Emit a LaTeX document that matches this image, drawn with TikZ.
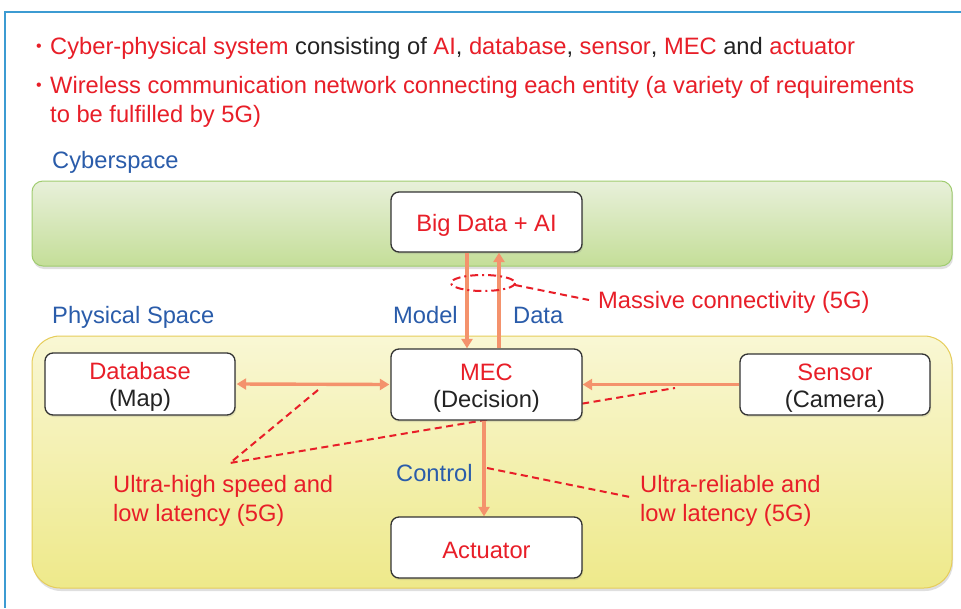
\documentclass[tikz,border=0pt]{standalone}
\usepackage{fontspec}
\setmainfont{Liberation Sans}
\usetikzlibrary{arrows.meta,shadows,calc}
\definecolor{tred}{RGB}{232,30,40}
\definecolor{tblue}{RGB}{42,92,170}
\definecolor{tblack}{RGB}{35,35,35}
\definecolor{arrcol}{RGB}{244,146,108}
\definecolor{framecol}{RGB}{60,155,210}
\definecolor{gtop}{RGB}{232,240,218}
\definecolor{gbot}{RGB}{196,222,152}
\definecolor{gline}{RGB}{160,204,112}
\definecolor{ytop}{RGB}{249,247,212}
\definecolor{ybot}{RGB}{238,233,138}
\definecolor{yline}{RGB}{230,205,90}
\newcommand{\mybul}{\makebox[14pt][l]{\raisebox{2.5pt}{\fontsize{16}{16}\selectfont\textbullet}}}
\newcommand{\boxup}{\rule{0pt}{23pt}}
\tikzset{
  txt/.style={anchor=base west, inner sep=0pt, font=\fontsize{23.7}{29}\selectfont, align=left},
  cbox/.style={draw=black!80, line width=1.3pt, fill=white, rounded corners=8pt,
     minimum width=191pt, align=center, font=\fontsize{23.7}{27}\selectfont, inner sep=0pt,
     drop shadow={opacity=0.2, shadow xshift=1pt, shadow yshift=-2pt}},
  region/.style={line width=1pt, inner sep=0pt, drop shadow={opacity=0.25, shadow xshift=1pt, shadow yshift=-3pt}},
  arr/.style={draw=arrcol, line width=3.4pt, -{Triangle[width=11pt,length=9.5pt]}},
  darr/.style={draw=arrcol, line width=3.4pt, {Triangle[width=11pt,length=9.5pt]}-{Triangle[width=11pt,length=9.5pt]}},
  rdash/.style={draw=tred, line width=2pt, dash pattern=on 7pt off 4.5pt},
  rdashdot/.style={draw=tred, line width=2pt, dash pattern=on 8pt off 4pt on 2pt off 4pt}
}
\begin{document}
\begin{tikzpicture}[x=1pt,y=-1pt]
\useasboundingbox[fill=white] (0,0) rectangle (961,608);
% frame
\draw[framecol, line width=1.2pt] (961,12) -- (5,12) -- (5,608);
% bullets
\node[txt, text=tred] (b1) at (36,54) {\mybul Cyber-physical system \textcolor{tblack}{consisting of} AI\textcolor{tblack}{,} database\textcolor{tblack}{,} sensor\textcolor{tblack}{,} MEC \textcolor{tblack}{and} actuator};
\node[txt, text=tred] (b2) at (36,122) {\mybul Wireless communication network connecting each entity (a variety of requirements\\\hspace*{14pt}to be fulfilled by 5G)};
% regions
\node[region, draw=gline, top color=gtop, bottom color=gbot, rounded corners=11pt,
  minimum width=920pt, minimum height=85pt] (cyber) at (492,223.5) {};
\node[region, draw=yline, top color=ytop, bottom color=ybot, rounded corners=28pt,
  minimum width=920pt, minimum height=252pt] (phys) at (492,462) {};
\node[txt, text=tblue] (lcyber) at (52,168) {Cyberspace};
\node[txt, text=tblue] (lphys) at (52,323) {Physical Space};
% dashed lines under boxes
\coordinate (uh) at (230,463);
\coordinate (uh1) at (318,390);
\coordinate (uh2) at (675,388);
\draw[rdash] (uh1) -- (uh) -- (uh2);
% boxes
\node[cbox, minimum height=60pt] (big) at (486.5,222) {\boxup\textcolor{tred}{Big Data + AI}};
\node[cbox, minimum height=71pt] (mec) at (486.5,384.5) {\boxup\textcolor{tred}{MEC}\\\textcolor{tblack}{(Decision)}};
\node[cbox, minimum width=190pt, minimum height=62pt] (db) at (140,384) {\boxup\textcolor{tred}{Database}\\\textcolor{tblack}{(Map)}};
\node[cbox, minimum width=190pt, minimum height=61pt] (sen) at (835,384.5) {\boxup\textcolor{tred}{Sensor}\\\textcolor{tblack}{(Camera)}};
\node[cbox, minimum height=61pt] (act) at (486.5,547.5) {\boxup\textcolor{tred}{Actuator}};
% arrows
\draw[arr] ([xshift=-19.5pt]big.south) -- ([xshift=-19.5pt]mec.north);
\draw[arr] ([xshift=12.5pt]mec.north) -- ([xshift=12.5pt]big.south);
\draw[darr] ([xshift=1pt]db.east) -- ([xshift=-1pt]mec.west);
\draw[arr] (sen.west) -- (mec.east);
\draw[arr] ([xshift=-2.5pt]mec.south) -- ([xshift=-2.5pt]act.north);
\node[txt, text=tblue] (lmodel) at (393,323) {Model};
\node[txt, text=tblue] (ldata) at (513,323) {Data};
\node[txt, text=tblue] (lctrl) at (396,481) {Control};
% massive connectivity
\draw[rdashdot] (483,283) ellipse [x radius=32, y radius=8];
\coordinate (mc1) at (515,285);
\coordinate (mc2) at (589,300);
\draw[rdash] (mc1) -- (mc2);
\node[txt, text=tred] (lmass) at (598,308) {Massive connectivity (5G)};
% ultra-reliable
\coordinate (ur1) at (487,468);
\coordinate (ur2) at (630,497);
\draw[rdash] (ur1) -- (ur2);
\node[txt, text=tred] (luh) at (113,521) {Ultra-high speed and\\low latency (5G)};
\node[txt, text=tred] (lur) at (640,521) {Ultra-reliable and\\low latency (5G)};
\end{tikzpicture}
\end{document}
